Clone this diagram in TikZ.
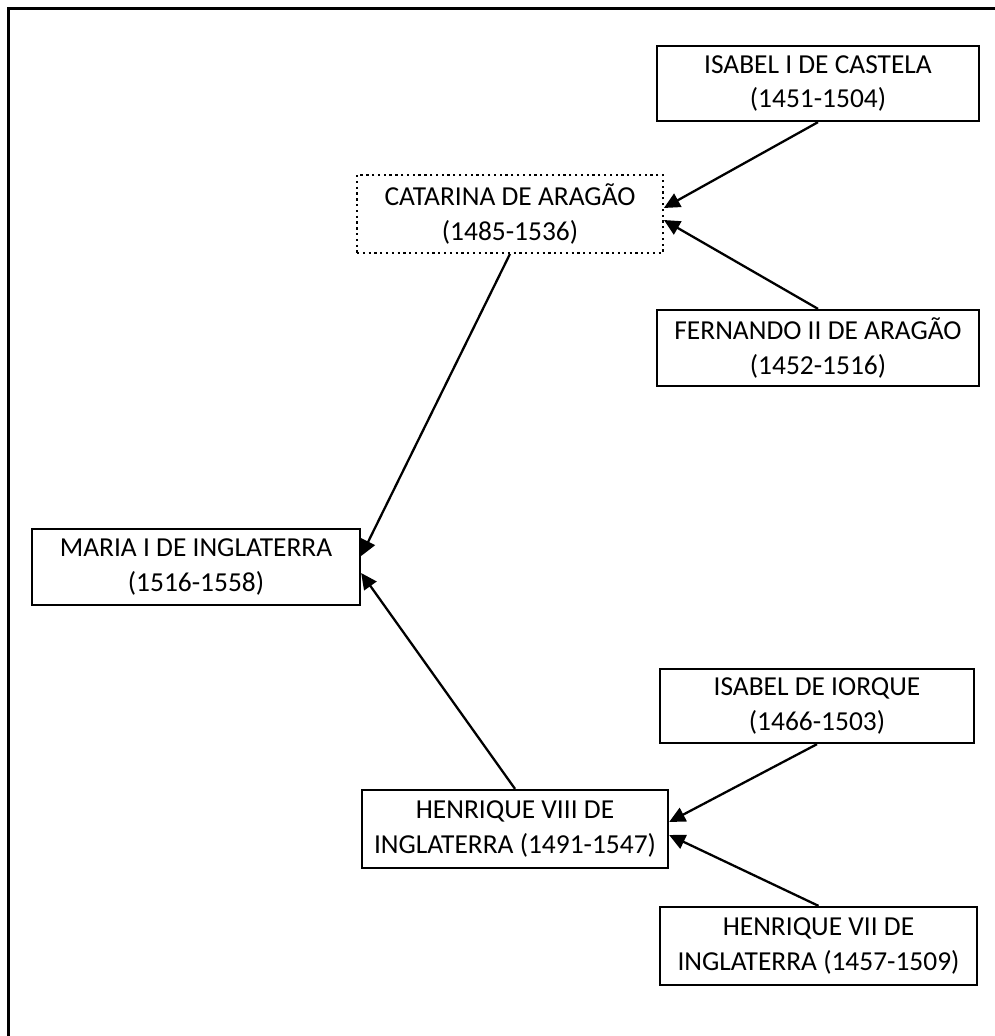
\documentclass[tikz,border=0pt]{standalone}
\usepackage{fontspec}
\setmainfont{Carlito}
\usepackage{tikz}
\usetikzlibrary{arrows.meta, positioning}
\tikzset{
  personbox/.style={
    draw, rectangle, line width=1.3pt,
    inner sep=4pt, align=center,
    minimum width=6.4cm, minimum height=1.52cm
  },
  arrow/.style={
    -{Triangle[length=0.32cm, width=0.3cm]}, line width=1.3pt
  }
}

\begin{document}
\begin{tikzpicture}[font=\fontsize{15.6}{19.6}\selectfont]
            \useasboundingbox (0,0) rectangle (19.9,-20.72);
            \draw[line width=2pt] (0.17,-20.72) -- (0.17,-0.17) -- (19.9,-0.17);

            \node[personbox, minimum width=6.44cm, minimum height=1.5cm] (isabelc) at (16.36,-1.67) {ISABEL I DE CASTELA\\(1451-1504)};
            \node[personbox, dotted, line width=1pt, minimum width=6.12cm, minimum height=1.56cm] (catarina) at (10.2,-4.28) {CATARINA DE ARAGÃO\\(1485-1536)};
            \node[personbox, minimum width=6.44cm] (fernando) at (16.36,-6.96) {FERNANDO II DE ARAGÃO\\(1452-1516)};
            \node[personbox, minimum width=6.56cm] (maria) at (3.92,-11.34) {MARIA I DE INGLATERRA\\(1516-1558)};
            \node[personbox, minimum width=6.28cm, minimum height=1.48cm] (iorque) at (16.34,-14.12) {ISABEL DE IORQUE\\(1466-1503)};
            \node[personbox, minimum width=6.12cm, minimum height=1.56cm] (henrique8) at (10.3,-16.58) {HENRIQUE VIII DE\\INGLATERRA (1491-1547)};
            \node[personbox, minimum width=6.34cm, minimum height=1.56cm] (henrique7) at (16.37,-18.92) {HENRIQUE VII DE\\INGLATERRA (1457-1509)};

            \draw[arrow] (isabelc.south) -- ([yshift=0.12cm]catarina.east);
            \draw[arrow] (fernando.north) -- ([yshift=-0.12cm]catarina.east);
            \draw[arrow] (catarina.south) -- ([yshift=0.22cm]maria.east);
            \draw[arrow] (henrique8.north) -- ([yshift=-0.12cm]maria.east);
            \draw[arrow] (iorque.south) -- ([yshift=0.14cm]henrique8.east);
            \draw[arrow] (henrique7.north) -- ([yshift=-0.12cm]henrique8.east);
        \end{tikzpicture}
\end{document}
